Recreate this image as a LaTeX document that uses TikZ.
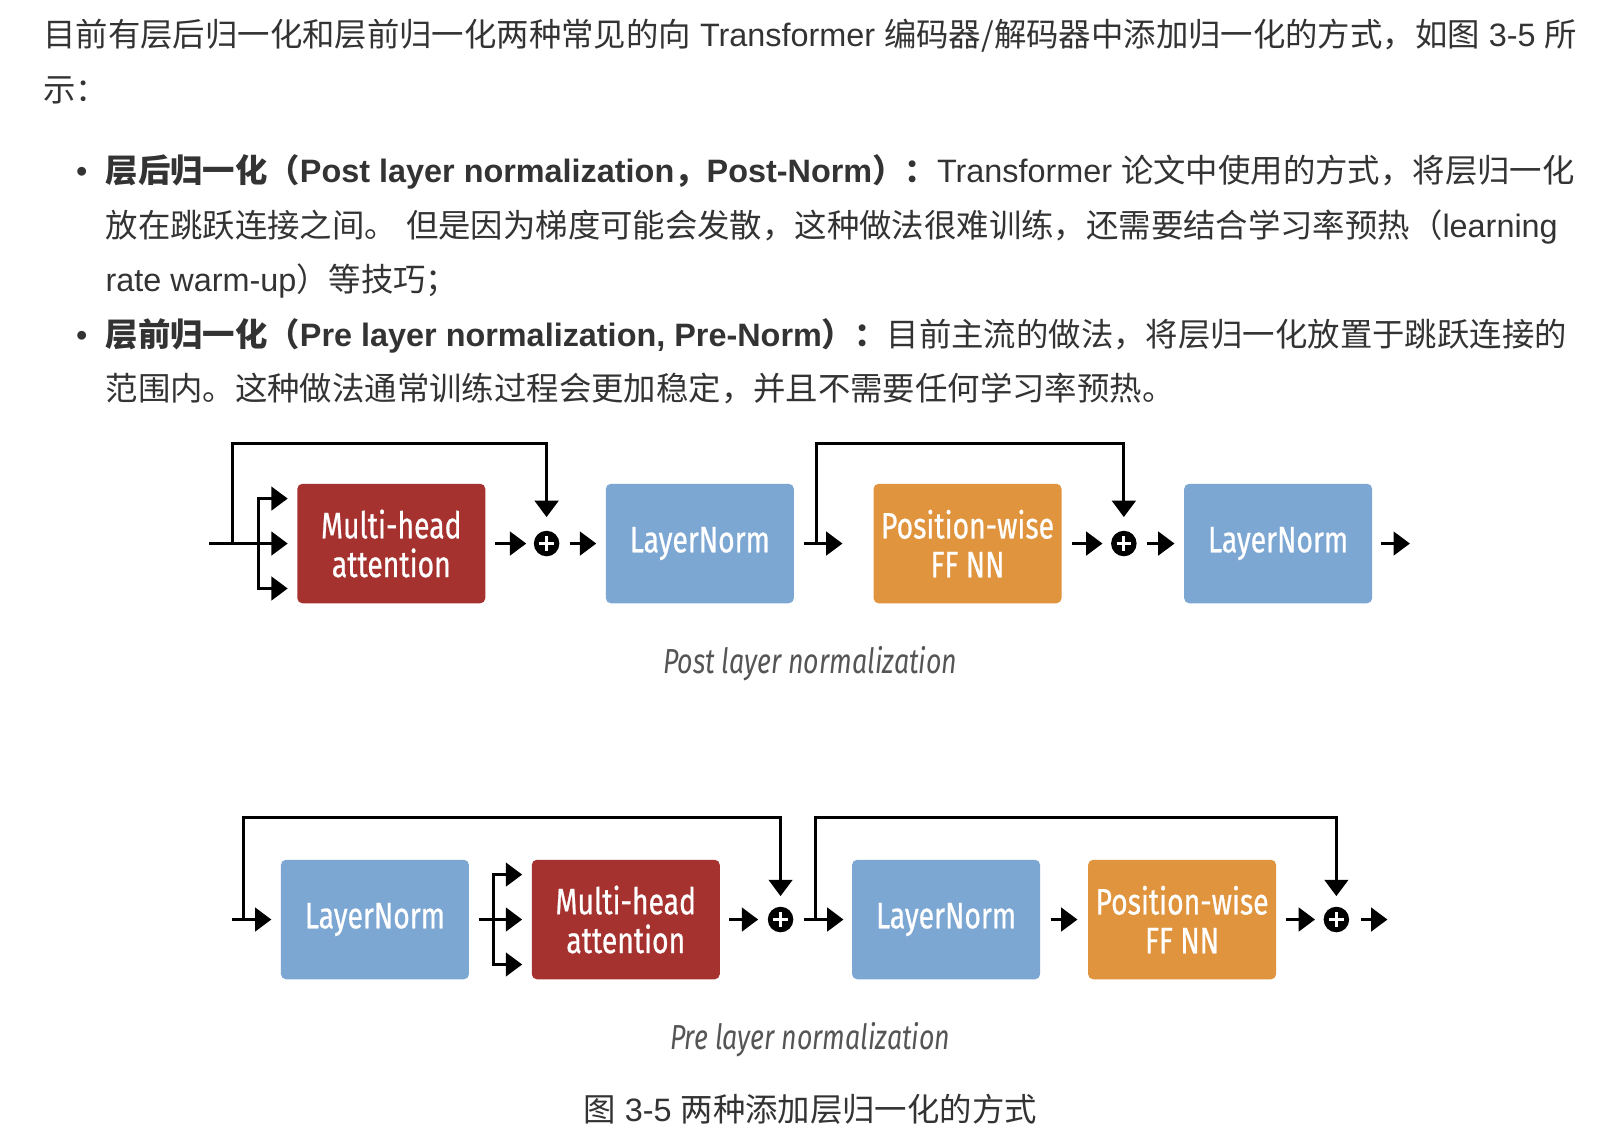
\documentclass[tikz,border=0pt]{standalone}
\usepackage{fontspec}
\setmainfont{Liberation Sans}
\newfontfamily\cjk{Noto Sans CJK SC}
\newfontfamily\boxfont{Fira Sans}[FakeStretch=0.77, FakeBold=0.6]
\newfontfamily\capfont{Fira Sans}[FakeStretch=0.77]
\usetikzlibrary{arrows.meta,positioning}

\definecolor{bodytext}{HTML}{333333}
\definecolor{captext}{HTML}{555555}
\definecolor{attnred}{HTML}{A5322F}
\definecolor{normblue}{HTML}{7DA7D3}
\definecolor{ffnorange}{HTML}{DF943D}

\newcommand\zh[1]{{\cjk #1}}

\tikzset{
  para/.style={anchor=base west, inner sep=0pt, text=bodytext,
    font=\fontsize{15.85pt}{19pt}\selectfont},
  block/.style={rounded corners=2.5pt, minimum width=92pt, minimum height=58.5pt,
    inner sep=0pt, text=white, align=center,
    font=\boxfont\fontsize{18pt}{19pt}\selectfont},
  attn/.style={block, fill=attnred},
  norm/.style={block, fill=normblue},
  ffn/.style={block, fill=ffnorange},
  addop/.style={circle, fill=black, minimum size=12.5pt, inner sep=0pt,
    path picture={
      \draw[white, line width=1.5pt]
        ([xshift=-3.6pt]path picture bounding box.center) -- ([xshift=3.6pt]path picture bounding box.center)
        ([yshift=-3.6pt]path picture bounding box.center) -- ([yshift=3.6pt]path picture bounding box.center);
    }},
  wire/.style={line width=1.5pt},
  arr/.style={wire, -{Triangle[length=8pt, width=11.5pt]}},
  figlabel/.style={anchor=base, inner sep=0pt, text=captext,
    font=\capfont\itshape\fontsize{17pt}{17pt}\selectfont},
}

\begin{document}
\begin{tikzpicture}[x=0.5pt, y=-0.5pt]
  \fill[white] (0,0) rectangle (1568,1114);
  \useasboundingbox (0,0) rectangle (1568,1114);

  % body text
  \node[para] (intro1) at (42,46) {\zh{目前有层后归一化和层前归一化两种常见的向} Transformer \zh{编码器/解码器中添加归一化的方式，如图} 3-5 \zh{所}};
  \node[para] (intro2) at (42,99) {\zh{示：}};

  \node[para, anchor=base] (dot1) at (80,179) {•};
  \node[para] (post1) at (103,179) {\textbf{\zh{层后归一化（}Post layer normalization\zh{，}Post-Norm\zh{）：}}Transformer \zh{论文中使用的方式，将层归一化}};
  \node[para] (post2) at (103,232) {\zh{放在跳跃连接之间。} \zh{但是因为梯度可能会发散，这种做法很难训练，还需要结合学习率预热（}learning};
  \node[para] (post3) at (103,285) {rate warm-up\zh{）等技巧；}};

  \node[para, anchor=base] (dot2) at (80,339) {•};
  \node[para] (pre1) at (103,339) {\textbf{\zh{层前归一化（}Pre layer normalization, Pre-Norm\zh{）：}}\zh{目前主流的做法，将层归一化放置于跳跃连接的}};
  \node[para] (pre2) at (103,392) {\zh{范围内。这种做法通常训练过程会更加稳定，并且不需要任何学习率预热。}};

  % post layer normalization
  \node[attn] (mha1) at (383,532) {Multi-head\\attention};
  \node[addop] (add1) at (535,532) {};
  \node[norm] (ln1) at (685,532) {LayerNorm};
  \node[ffn] (ffn1) at (947,532) {Position-wise\\FF NN};
  \node[addop] (add2) at (1100,532) {};
  \node[norm] (ln2) at (1251,532) {LayerNorm};

  \coordinate (in1) at (205,532);
  \coordinate (skip1) at (228,532);
  \coordinate (fork1) at (253,532);
  \coordinate (skip2) at (799,532);
  \coordinate (out1) at (1380,532);

  \draw[wire] (in1) -- (fork1);
  \draw[arr, shorten >=4.5pt] (fork1) |- ([yshift=22pt]mha1.west);
  \draw[arr, shorten >=4.5pt] (fork1) -- (mha1.west);
  \draw[arr, shorten >=4.5pt] (fork1) |- ([yshift=-22pt]mha1.west);
  \draw[arr, shorten >=6.5pt] (skip1) -- ++(0,-98) -| (add1.north);
  \draw[arr, shorten <=4.5pt, shorten >=3.5pt] (mha1) -- (add1);
  \draw[arr, shorten <=5pt, shorten >=4.5pt] (add1) -- (ln1);
  \draw[arr, shorten <=5pt, shorten >=15pt] (ln1) -- (ffn1);
  \draw[arr, shorten >=6.5pt] (skip2) -- ++(0,-98) -| (add2.north);
  \draw[arr, shorten <=5pt, shorten >=4pt] (ffn1) -- (add2);
  \draw[arr, shorten <=5pt, shorten >=4.5pt] (add2) -- (ln2);
  \draw[arr, shorten <=4pt] (ln2) -- (out1);

  \node[figlabel] (postcap) at (793,659) {Post layer normalization};

  % pre layer normalization
  \node[norm] (lnb1) at (367,900) {LayerNorm};
  \node[attn] (mhab) at (612.5,900) {Multi-head\\attention};
  \node[addop] (addb1) at (764,900) {};
  \node[norm] (lnb2) at (926,900) {LayerNorm};
  \node[ffn] (ffnb) at (1157,900) {Position-wise\\FF NN};
  \node[addop] (addb2) at (1308,900) {};

  \coordinate (in2) at (227,900);
  \coordinate (skip3) at (238,900);
  \coordinate (fork2) at (483,900);
  \coordinate (skip4) at (798,900);
  \coordinate (out2) at (1358,900);

  \draw[arr, shorten >=4.5pt] (in2) -- (lnb1);
  \draw[arr, shorten >=5pt] (skip3) -- ++(0,-100) -| (addb1.north);
  \draw[wire, shorten <=4.5pt] (lnb1) -- (fork2);
  \draw[arr, shorten >=4.5pt] (fork2) |- ([yshift=22pt]mhab.west);
  \draw[arr, shorten >=4.5pt] (fork2) -- (mhab.west);
  \draw[arr, shorten >=4.5pt] (fork2) |- ([yshift=-22pt]mhab.west);
  \draw[arr, shorten <=4.5pt, shorten >=4.5pt] (mhab) -- (addb1);
  \draw[arr, shorten <=5pt, shorten >=4pt] (addb1) -- (lnb2);
  \draw[arr, shorten >=5pt] (skip4) -- ++(0,-100) -| (addb2.north);
  \draw[arr, shorten <=5pt, shorten >=5pt] (lnb2) -- (ffnb);
  \draw[arr, shorten <=4.5pt, shorten >=4pt] (ffnb) -- (addb2);
  \draw[arr, shorten <=5.5pt] (addb2) -- (out2);

  \node[figlabel] (precap) at (793,1027) {Pre layer normalization};

  \node[para, anchor=base] (figcap) at (793,1098) {\zh{图} 3-5 \zh{两种添加层归一化的方式}};
\end{tikzpicture}
\end{document}
